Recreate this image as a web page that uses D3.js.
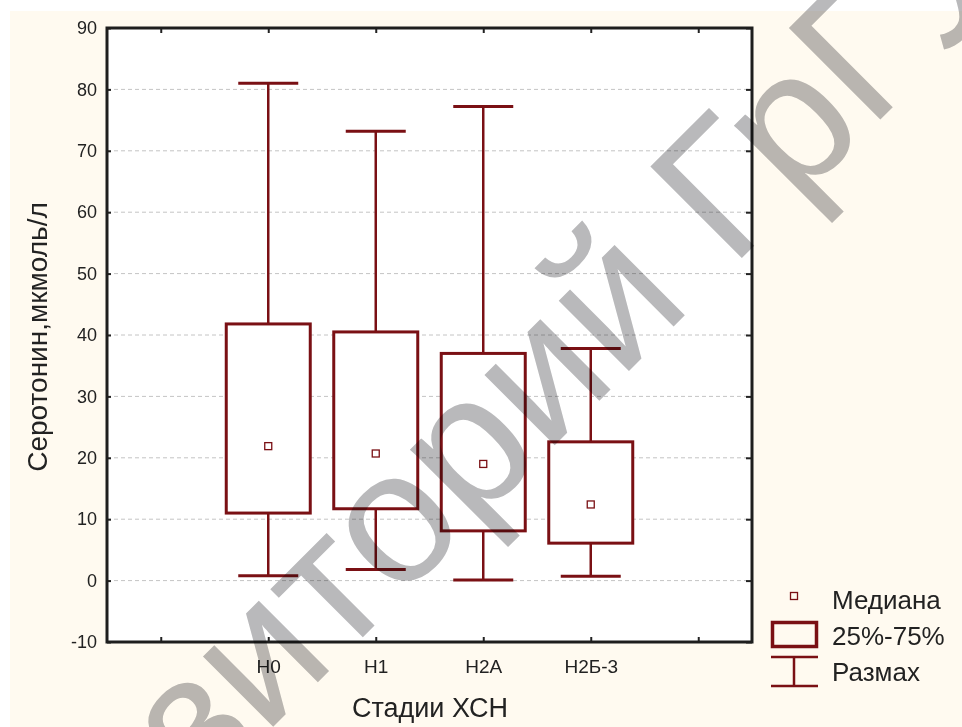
<!DOCTYPE html>
<html><head><meta charset="utf-8">
<script src="https://cdnjs.cloudflare.com/ajax/libs/d3/7.8.5/d3.min.js"></script>
<style>
html,body{margin:0;padding:0;background:#fff;}
svg{display:block;}
text{font-family:"Liberation Sans",Arial,sans-serif;}
</style></head>
<body>
<script>
// ---- data ----
const categories = ["Н0", "Н1", "Н2А", "Н2Б-3"];
const minValues = [0.8, 1.8, 0.1, 0.7];
const q1Values = [11.0, 11.7, 8.1, 6.1];
const medianValues = [21.9, 20.7, 19.0, 12.4];
const q3Values = [41.8, 40.5, 37.0, 22.6];
const maxValues = [81.0, 73.2, 77.2, 37.8];
const yTicks = [-10, 0, 10, 20, 30, 40, 50, 60, 70, 80, 90];
const gridTicks = [0, 10, 20, 30, 40, 50, 60, 70, 80];
const legendLabels = ["Медиана", "25%-75%", "Размах"];
const yTitle = "Серотонин,мкмоль/л";
const xTitle = "Стадии ХСН";
const watermark = "Репозиторий ГрГУ";

const W = 962, H = 727;
const red = "#7a1014";
const svg = d3.select("body").append("svg").attr("width", W).attr("height", H);

// background
svg.append("rect").attr("x", 10).attr("y", 11).attr("width", W - 10).attr("height", H - 11).attr("fill", "#fffaf0");

const plot = {l: 107, r: 752, t: 28, b: 642};
const slots = ["_a", ...categories, "_b"];
const x = d3.scalePoint().domain(slots).range([plot.l, plot.r]).padding(0.5);
const y = d3.scaleLinear().domain([-10, 90]).range([plot.b, plot.t]);

svg.append("rect").attr("x", plot.l).attr("y", plot.t).attr("width", plot.r - plot.l).attr("height", plot.b - plot.t).attr("fill", "#fff");

// grid
svg.append("g").selectAll("line").data(gridTicks).join("line")
  .attr("x1", plot.l).attr("x2", plot.r)
  .attr("y1", d => y(d)).attr("y2", d => y(d))
  .attr("stroke", "#c4c4c4").attr("stroke-width", 1).attr("stroke-dasharray", "4,3");

// y axis labels (left) with small inner ticks
const yAxis = d3.axisLeft(y).tickValues(yTicks).tickSize(0).tickPadding(10).tickFormat(d => String(d));
const gy = svg.append("g").attr("transform", `translate(${plot.l},0)`).call(yAxis);
gy.select(".domain").remove();
gy.selectAll("text").attr("font-size", 18).attr("fill", "#222").attr("font-family", "Liberation Sans, Arial, sans-serif");
const yLeftTicks = d3.axisRight(y).tickValues(yTicks).tickSize(4).tickFormat("");
const gyl = svg.append("g").attr("transform", `translate(${plot.l},0)`).call(yLeftTicks);
gyl.select(".domain").remove();
gyl.selectAll("line").attr("stroke", "#222").attr("stroke-width", 2);

// right inner ticks
const yRight = d3.axisLeft(y).tickValues(yTicks).tickSize(6).tickFormat("");
const gyr = svg.append("g").attr("transform", `translate(${plot.r},0)`).call(yRight);
gyr.select(".domain").remove();
gyr.selectAll("line").attr("stroke", "#222").attr("stroke-width", 2);

// x axis (bottom) labels + inner ticks
const xAxis = d3.axisBottom(x).tickSize(-5).tickPadding(18).tickFormat(d => d.startsWith("_") ? "" : d);
const gx = svg.append("g").attr("transform", `translate(0,${plot.b})`).call(xAxis);
gx.select(".domain").remove();
gx.selectAll("line").attr("stroke", "#222").attr("stroke-width", 2);
gx.selectAll("text").attr("font-size", 19).attr("fill", "#222").attr("font-family", "Liberation Sans, Arial, sans-serif");

const xTop = d3.axisTop(x).tickSize(-5).tickFormat("");
const gxt = svg.append("g").attr("transform", `translate(0,${plot.t})`).call(xTop);
gxt.select(".domain").remove();
gxt.selectAll("line").attr("stroke", "#222").attr("stroke-width", 2);

// frame
svg.append("rect").attr("x", plot.l).attr("y", plot.t).attr("width", plot.r - plot.l).attr("height", plot.b - plot.t)
  .attr("fill", "none").attr("stroke", "#1e1e1e").attr("stroke-width", 3);

// boxes
const boxW = 84, capW = 60;
const data = categories.map((c, i) => ({c, min: minValues[i], q1: q1Values[i], med: medianValues[i], q3: q3Values[i], max: maxValues[i]}));
const g = svg.append("g");
const bx = g.selectAll("g.box").data(data).join("g").attr("class", "box");
bx.append("line").attr("x1", d => x(d.c)).attr("x2", d => x(d.c)).attr("y1", d => y(d.max)).attr("y2", d => y(d.q3)).attr("stroke", red).attr("stroke-width", 2.5);
bx.append("line").attr("x1", d => x(d.c)).attr("x2", d => x(d.c)).attr("y1", d => y(d.q1)).attr("y2", d => y(d.min)).attr("stroke", red).attr("stroke-width", 2.5);
bx.append("line").attr("x1", d => x(d.c) - capW / 2).attr("x2", d => x(d.c) + capW / 2).attr("y1", d => y(d.max)).attr("y2", d => y(d.max)).attr("stroke", red).attr("stroke-width", 3);
bx.append("line").attr("x1", d => x(d.c) - capW / 2).attr("x2", d => x(d.c) + capW / 2).attr("y1", d => y(d.min)).attr("y2", d => y(d.min)).attr("stroke", red).attr("stroke-width", 3);
bx.append("rect").attr("x", d => x(d.c) - boxW / 2).attr("width", boxW).attr("y", d => y(d.q3)).attr("height", d => y(d.q1) - y(d.q3))
  .attr("fill", "#fff").attr("stroke", red).attr("stroke-width", 3);
bx.append("rect").attr("x", d => x(d.c) - 3.5).attr("y", d => y(d.med) - 3.5).attr("width", 7).attr("height", 7)
  .attr("fill", "#fff").attr("stroke", red).attr("stroke-width", 1.3);

// titles
svg.append("text").attr("transform", "translate(47,337) rotate(-90)").attr("text-anchor", "middle")
  .attr("font-size", 28).attr("fill", "#222").text(yTitle);
svg.append("text").attr("x", 430).attr("y", 717).attr("text-anchor", "middle")
  .attr("font-size", 27).attr("fill", "#222").text(xTitle);

// legend
const lg = svg.append("g");
lg.append("rect").attr("x", 790.5).attr("y", 592.5).attr("width", 7).attr("height", 7).attr("fill", "none").attr("stroke", red).attr("stroke-width", 1.3);
lg.append("rect").attr("x", 772.5).attr("y", 622.5).attr("width", 44).attr("height", 24).attr("fill", "none").attr("stroke", red).attr("stroke-width", 3.5);
lg.append("line").attr("x1", 771).attr("x2", 818).attr("y1", 657).attr("y2", 657).attr("stroke", red).attr("stroke-width", 2.5);
lg.append("line").attr("x1", 794).attr("x2", 794).attr("y1", 657).attr("y2", 686).attr("stroke", red).attr("stroke-width", 2.5);
lg.append("line").attr("x1", 771).attr("x2", 818).attr("y1", 686).attr("y2", 686).attr("stroke", red).attr("stroke-width", 2.5);
lg.selectAll("text").data(legendLabels).join("text")
  .attr("x", 832).attr("y", (d, i) => [609, 645, 681][i])
  .attr("font-size", 26).attr("fill", "#222").text(d => d);

// watermark
const wm = svg.append("text").attr("font-size", 188).attr("fill", "#b9b9bb")
  .style("mix-blend-mode", "multiply").text(watermark);
const pre = wm.node().getSubStringLength(0, watermark.indexOf("Г"));
const gx0 = 731, gy0 = 269;
const ox = gx0 - pre * Math.SQRT1_2, oy = gy0 + pre * Math.SQRT1_2;
wm.attr("transform", `translate(${ox},${oy}) rotate(-45)`);
</script>
</body></html>
